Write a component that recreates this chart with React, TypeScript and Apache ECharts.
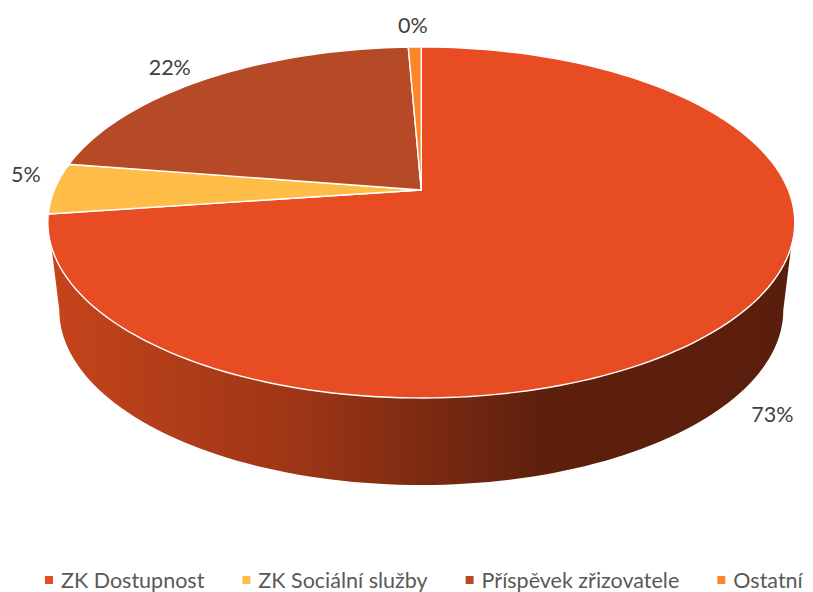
import React, { useEffect, useRef } from "react";
import * as echarts from "echarts";

const categories = ["ZK Dostupnost", "ZK Sociální služby", "Příspěvek zřizovatele", "Ostatní"];
const values = [72.8, 4.7, 21.83, 0.67];
const percentLabels = ["73%", "5%", "22%", "0%"];
const colors = ["#E84C22", "#FFBD47", "#B64926", "#FF8427"];

// Perspective disc layout
const CX = 421.3;
const CY = 190;
const RX = 367;
const RY = 169.5;
const K = 0.185;
// Offset of each label from the rim point at the slice's mid angle
const labelOffsets = [[36, 97], [-29, -14], [-37, -12], [-2, -22]];
const FONT = "Lato, Carlito, 'Open Sans', sans-serif";

const total = values.reduce((a, b) => a + b, 0);
const rad = (frac: number) => frac * 2 * Math.PI;

function rim(theta: number, r = 1): [number, number] {
  const u = r * Math.sin(theta);
  const v = -r * Math.cos(theta);
  const d = 1 - K * v;
  return [CX + (RX * u) / d, CY + (RY * v) / d];
}

function sliceRender(index: number) {
  const start = values.slice(0, index).reduce((a, b) => a + b, 0) / total;
  const end = start + values[index] / total;
  return (_params: any, api: any) => {
    const points: [number, number][] = [[CX, CY]];
    const steps = Math.max(4, Math.ceil((end - start) * 240));
    for (let i = 0; i <= steps; i++) {
      points.push(rim(rad(start + ((end - start) * i) / steps)));
    }
    const mid = rim(rad((start + end) / 2));
    const off = labelOffsets[index];
    return {
      type: "group",
      children: [
        {
          type: "polygon",
          shape: { points },
          style: { fill: api.visual("color"), stroke: "#FFFFFF", lineWidth: 1.4, lineJoin: "round" },
        },
        {
          type: "text",
          x: mid[0] + off[0],
          y: mid[1] + off[1],
          style: {
            text: percentLabels[index],
            fill: "#404040",
            fontFamily: FONT,
            fontSize: 21.5,
            textAlign: "center",
            textVerticalAlign: "middle",
          },
        },
      ],
    };
  };
}

function sideRender() {
  const points: [number, number][] = [];
  const a0 = (251.6 * Math.PI) / 180;
  const a1 = (108.4 * Math.PI) / 180;
  for (let i = 0; i <= 100; i++) {
    points.push(rim(a0 + ((a1 - a0) * i) / 100));
  }
  const lowerA = 362;
  const lowerB = 175;
  const lowerCy = 310;
  for (let i = 0; i <= 100; i++) {
    const t = (Math.PI * i) / 100;
    points.push([CX + lowerA * Math.cos(t), lowerCy + lowerB * Math.sin(t)]);
  }
  return {
    type: "polygon",
    shape: { points },
    style: {
      fill: new echarts.graphic.LinearGradient(0, 0, 1, 0, [
        { offset: 0, color: "#C5441C" },
        { offset: 0.34, color: "#9C3516" },
        { offset: 0.66, color: "#5E200D" },
        { offset: 1, color: "#5A1E0C" },
      ]),
    },
  };
}

export default function App() {
  const ref = useRef<HTMLDivElement>(null);
  useEffect(() => {
    document.body.style.margin = "0";
    const chart = echarts.init(ref.current!, undefined, { renderer: "svg" });
    chart.setOption({
      animation: false,
      backgroundColor: "#FFFFFF",
      legend: {
        data: categories,
        left: 45,
        top: 569,
        itemWidth: 8,
        itemHeight: 8,
        itemGap: 38,
        icon: "rect",
        selectedMode: false,
        textStyle: { color: "#595959", fontFamily: FONT, fontSize: 21.5, lineHeight: 22, padding: [0, 0, 0, 3] },
        padding: 0,
      },
      series: [
        {
          type: "custom",
          name: "side",
          coordinateSystem: "none",
          silent: true,
          data: [[0]],
          renderItem: sideRender,
        },
        ...categories.map((name, i) => ({
          type: "custom",
          name,
          coordinateSystem: "none",
          silent: true,
          itemStyle: { color: colors[i] },
          data: [[values[i]]],
          renderItem: sliceRender(i),
        })),
      ],
    });
    return () => chart.dispose();
  }, []);
  return <div ref={ref} style={{ width: 813, height: 592 }} />;
}
